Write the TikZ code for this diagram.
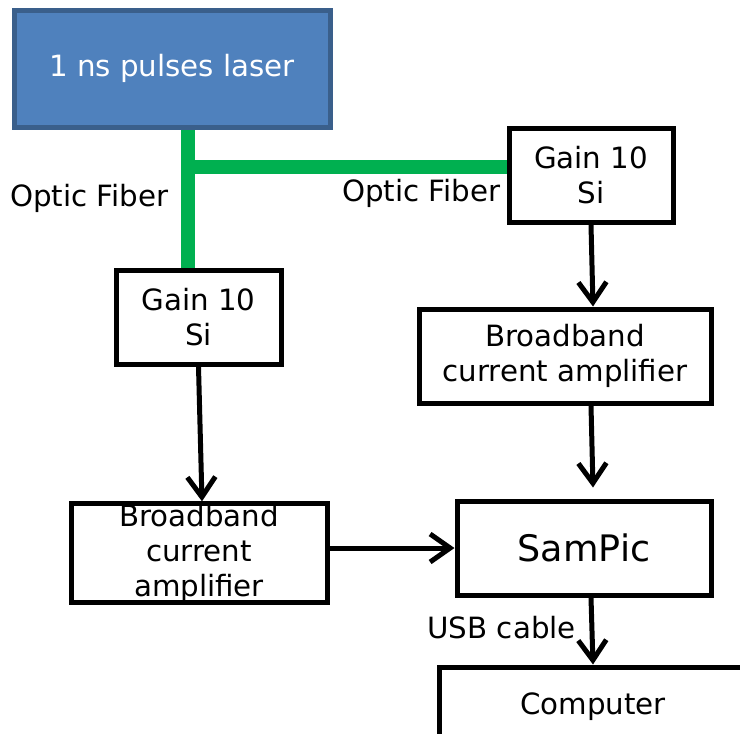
\documentclass[tikz,border=0pt]{standalone}
\usepackage{fontspec}
\setmainfont{DejaVu Sans}
\usetikzlibrary{arrows.meta}
\definecolor{laserblue}{HTML}{4F81BD}
\definecolor{laseredge}{HTML}{3A5F8B}
\definecolor{fibergreen}{HTML}{00B050}
\begin{document}
\begin{tikzpicture}[x=1pt,y=-1pt,
  txt/.style={font=\fontsize{29.3}{35}\selectfont},
  box/.style={txt,draw=black,line width=5pt,inner sep=0pt,align=center,fill=white},
  fiberline/.style={draw=fibergreen,line width=14.5pt},
  sig/.style={draw=black,line width=5pt,-{Straight Barb[length=20pt,width=28pt]}},
  lbl/.style={txt,inner sep=0pt}]
\useasboundingbox (0,0) rectangle (740,734);
% fiber
\coordinate (fj) at (188,167);
\node[box,draw=laseredge,line width=5pt,fill=laserblue,text=white,minimum width=316pt,minimum height=117pt] (laser) at (172,68.5) {1 ns pulses laser};
\node[box,minimum width=164pt,minimum height=94pt] (gainR) at (591,175) {Gain 10\\Si};
\node[box,minimum width=165pt,minimum height=94pt] (gainL) at (198.5,317) {Gain 10\\Si};
\node[box,minimum width=292pt,minimum height=94pt] (bbR) at (565,356) {Broadband\\current amplifier};
\node[box,minimum width=256pt,minimum height=94pt,fill=none] (bbL) at (199,553) {\raisebox{-3pt}{\parbox{256pt}{\centering Broadband\\current\\amplifier}}};
\node[box,minimum width=254pt,minimum height=94pt,font=\fontsize{36.5}{42}\selectfont] (sampic) at (584,548) {SamPic};
\node[box,minimum width=308pt,minimum height=80pt] (computer) at (593,707) {Computer};
\draw[fiberline] (fj |- laser.south) -- (fj |- gainL.north);
\draw[fiberline] ([xshift=-7pt]fj) -- (fj -| gainR.west);
% labels
\node[lbl,anchor=base west] (of1) at (10,206) {Optic Fiber};
\node[lbl,anchor=base west] (of2) at (342,201) {Optic Fiber};
\node[lbl,anchor=base east] (usb) at (576,638) {USB cable};
% signal arrows
\draw[sig] (gainL.south) -- ([xshift=3pt]bbL.north);
\draw[sig] (gainR.south) -- ([xshift=2pt]gainR.south |- bbR.north);
\coordinate (inS) at ([xshift=9pt,yshift=11pt]sampic.north);
\draw[sig] ([xshift=26pt]bbR.south) -- (inS);
\draw[sig] ([yshift=5pt]bbL.east) -- (sampic.west);
\draw[sig] ([xshift=7pt]sampic.south) -- (computer.north);
\end{tikzpicture}
\end{document}
